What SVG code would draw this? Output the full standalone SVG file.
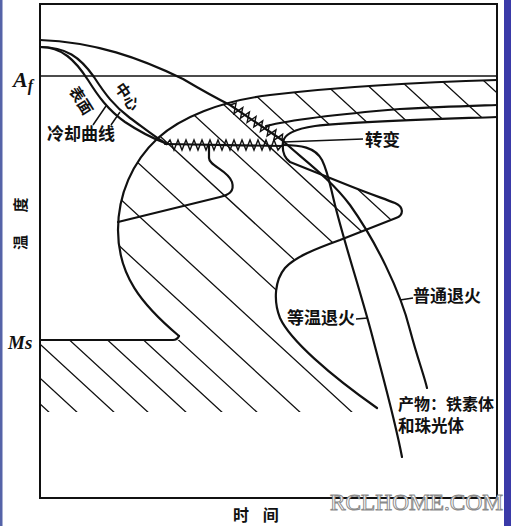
<svg xmlns="http://www.w3.org/2000/svg" width="511" height="526" viewBox="0 0 511 526">
<style>
.ln{fill:none;stroke:#111;stroke-width:2.2;stroke-linecap:round;stroke-linejoin:round}
.thin{fill:none;stroke:#111;stroke-width:1.5}
.ht{fill:none;stroke:#111;stroke-width:1.3}
.zz{fill:none;stroke:#111;stroke-width:1.4;stroke-linejoin:miter}
.cn{font-family:"Noto Sans CJK SC",sans-serif;font-weight:700;fill:#111}
.it{font-family:"Liberation Serif",serif;font-style:italic;font-weight:700;fill:#111}
</style>
<defs>
<clipPath id="hatchClip"><path d="M497,80 C420,82 330,88 270,95 C220,101 180,118 158,138 C132,162 118,195 118,230 C118,275 141,304 179,336 L179,340 L40,340 L40,412 L377,412 L377,408 C330,375 290,340 280,318 C273,300 275,280 285,268 C295,257 315,249 340,240 L396,218 C404,215 404,207 395,203 C385,199 370,194 350,186 L290,162 C283,157 282,150 283,142 C284,134 295,129 315,126 C360,121 440,119 497,117 Z"/></clipPath>
</defs>
<rect x="0" y="0" width="511" height="526" fill="#fff"/>
<rect x="0" y="0" width="2.5" height="526" fill="#5563a8"/>
<rect x="504" y="0" width="7" height="526" fill="#3a3aa8"/>
<g id="frame">
<rect x="40" y="4" width="457" height="494" fill="none" stroke="#111" stroke-width="2"/>
<path class="thin" d="M40,76 H497"/>
<path class="ln" d="M40,340 L173,340 Q177,340 179,336" stroke-width="2.6"/>
</g>
<g id="hatching" clip-path="url(#hatchClip)">
<path class="ht" d="M-333.8,60 L57.5,420 M-305.8,60 L85.5,420 M-268.8,60 L122.5,420 M-234.8,60 L156.5,420 M-196.8,60 L194.5,420 M-160.8,60 L230.5,420 M-125.8,60 L265.5,420 M-82.8,60 L308.5,420 M-30.8,60 L360.5,420 M26.2,60 L417.5,420 M77.2,60 L468.5,420 M134.2,60 L525.5,420 M175.2,60 L566.5,420 M217.2,60 L608.5,420 M259.2,60 L650.5,420 M299.2,60 L690.5,420 M340.2,60 L731.5,420 M378.2,60 L769.5,420 M419.2,60 L810.5,420 M461.2,60 L852.5,420"/>
</g>
<g id="connectors">
<path id="start-curve" class="ln" d="M497,80 C420,82 330,88 270,95 C220,101 180,118 158,138 C132,162 118,195 118,230 C118,275 141,304 179,336"/>
<path id="band-line" class="ln" d="M266,126 C290,120 340,114 400,109 C440,107 470,106 497,105"/>
<path id="finish-curve" class="ln" d="M497,117 C440,119 360,121 315,126 C295,129 284,134 283,142 C282,150 283,157 290,162 L350,186 C370,194 385,199 395,203 C404,207 404,215 396,218 L340,240 C315,249 295,257 285,268 C275,280 273,300 280,318 C290,340 330,375 377,408"/>
<path id="top-cooling" class="ln" d="M40,40 C95,42 140,58 183,79 C205,92 220,100 230,105 L282,140"/>
<path id="surface-curve" class="ln" d="M40,47 C62,47 75,60 88,80 C98,96 108,110 125,122 C140,132 152,138 165,143"/>
<path id="center-curve" class="ln" d="M40,47 C66,47 80,57 94,77 C105,94 114,106 130,118 C145,129 155,137 165,143"/>
<path class="ln" d="M165,144 L283,146"/>
<polyline class="zz" points="230,105 236.1,103.1 233.9,113.6 242.8,107.5 240.5,118.1 249.4,112 247.1,122.5 256,116.5 253.8,127 262.7,120.9 260.4,131.5 269.3,125.4 267.1,135.9 276,129.8 273.7,140.4 282.6,134.3 282,140"/>
<polyline class="zz" points="166,145 170,140 174,150 178,140 182,150 186,140 190,150 194,140 198,150 202,140 206,150 210,140 214,150 218,140 222,150 226,140 230,150 234,140 238,150 242,140 246,150 250,140 254,150 258,140 262,150 266,140 270,150 274,140 278,150 282,145"/>
<path id="ordinary-anneal" class="ln" d="M282,140 C300,157 330,178 350,205 C375,240 400,290 410,330 C418,360 424,375 427,388"/>
<path id="isothermal-anneal" class="ln" d="M283,145 C300,145 315,147 322,160 C328,172 330,185 335,205 C345,245 360,290 372,335 C385,385 395,420 402,457"/>
<path id="bump-curve" class="ln" d="M209,146 L209,158 C209,166 228,170 232,182 C235,192 228,195 220,197 L118,222"/>
<path class="thin" d="M283,142 L363,139 M400,300 L413,298 M356,319 L368,318 M93,125 L106,106 M111,125 L120,112"/>
</g>
<g id="labels">
<text class="it" x="13" y="87" font-size="22">A<tspan font-size="16" dy="4">f</tspan></text>
<text class="it" x="8" y="349" font-size="19">Ms</text>
<text class="cn" font-size="15" transform="translate(26,250) rotate(-90)" word-spacing="19">温 度</text>
<text class="cn" x="233" y="521" font-size="16" word-spacing="10">时 间</text>
<text class="cn" font-size="15" text-anchor="middle" dominant-baseline="central" transform="translate(82,100) rotate(58)">表面</text>
<text class="cn" font-size="15" text-anchor="middle" dominant-baseline="central" transform="translate(128,96) rotate(56)">中心</text>
<text class="cn" x="47" y="140" font-size="17">冷却曲线</text>
<text class="cn" x="365" y="146" font-size="17.5">转变</text>
<text class="cn" x="413" y="302" font-size="17">普通退火</text>
<text class="cn" x="287" y="324" font-size="17">等温退火</text>
<text class="cn" x="398" y="410" font-size="16">产物：铁素体</text>
<text class="cn" x="398" y="432" font-size="16.5">和珠光体</text>
<text x="330" y="510" font-family="Liberation Serif,serif" font-size="24" textLength="173" lengthAdjust="spacingAndGlyphs" fill="#fff" stroke="#8a8a8a" stroke-width="1">RCLHOME.COM</text>
</g>
</svg>
